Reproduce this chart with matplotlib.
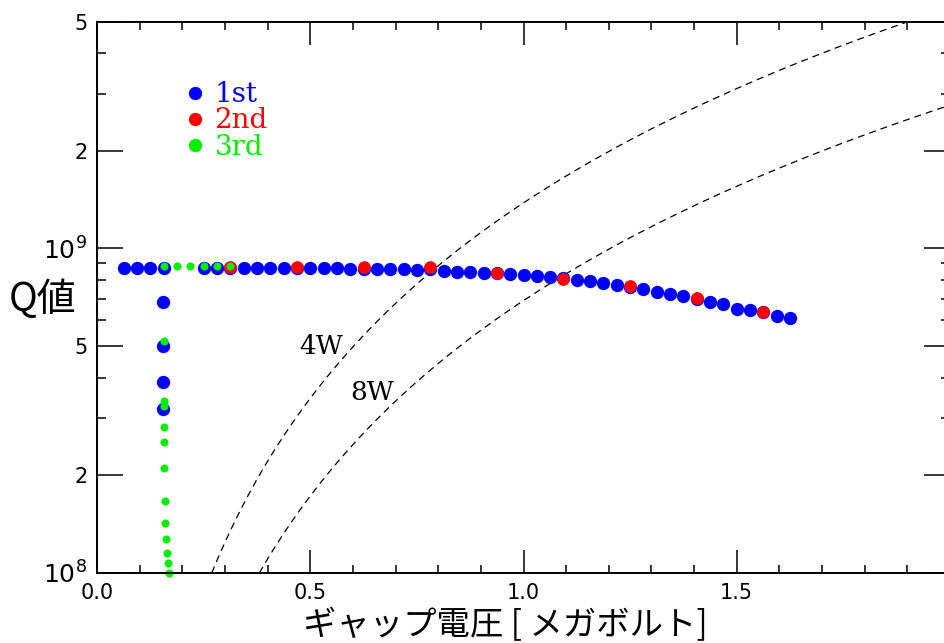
import numpy as np
import matplotlib
matplotlib.use("Agg")
import matplotlib.pyplot as plt
from matplotlib.ticker import FixedLocator, FixedFormatter, NullFormatter

# ---------------- data ----------------
# 1st (blue): horizontal run + vertical drop
first_x = [0.0625, 0.09375, 0.125, 0.15625,
           0.25, 0.28125, 0.3125, 0.34375, 0.375, 0.40625, 0.4375, 0.46875,
           0.5, 0.53125, 0.5625, 0.59375, 0.625, 0.65625, 0.6875, 0.71875,
           0.75, 0.78125, 0.8125, 0.84375, 0.875, 0.90625, 0.9375, 0.96875,
           1.0, 1.03125, 1.0625, 1.09375, 1.125, 1.15625, 1.1875, 1.21875,
           1.25, 1.28125, 1.3125, 1.34375, 1.375, 1.40625, 1.4375, 1.46875,
           1.5, 1.53125, 1.5625, 1.59375, 1.625,
           0.154, 0.154, 0.154, 0.154]
first_q = [8.69e8, 8.69e8, 8.69e8, 8.69e8,
           8.69e8, 8.69e8, 8.69e8, 8.69e8, 8.69e8, 8.69e8, 8.69e8, 8.69e8,
           8.69e8, 8.69e8, 8.69e8, 8.65e8, 8.65e8, 8.65e8, 8.65e8, 8.61e8,
           8.58e8, 8.62e8, 8.53e8, 8.48e8, 8.46e8, 8.40e8, 8.38e8, 8.33e8,
           8.29e8, 8.23e8, 8.17e8, 8.09e8, 8.00e8, 7.94e8, 7.85e8, 7.72e8,
           7.61e8, 7.49e8, 7.35e8, 7.24e8, 7.11e8, 6.99e8, 6.86e8, 6.75e8,
           6.50e8, 6.47e8, 6.35e8, 6.19e8, 6.09e8,
           6.86e8, 5.01e8, 3.88e8, 3.20e8]

# 2nd (red)
second_x = [0.3125, 0.46875, 0.625, 0.78125, 0.9375, 1.09375, 1.25, 1.40625, 1.5625]
second_q = [8.79e8, 8.79e8, 8.79e8, 8.79e8, 8.42e8, 8.05e8, 7.65e8, 7.03e8, 6.36e8]

# 3rd (green)
third_x = [0.15625, 0.1875, 0.21875, 0.25, 0.28125, 0.3125,
           0.156, 0.156, 0.157, 0.157, 0.157, 0.158, 0.159, 0.160,
           0.162, 0.163, 0.166, 0.169]
third_q = [8.83e8, 8.83e8, 8.83e8, 8.83e8, 8.83e8, 8.83e8,
           5.19e8, 3.39e8, 3.27e8, 2.82e8, 2.53e8, 2.11e8, 1.67e8, 1.43e8,
           1.27e8, 1.15e8, 1.07e8, 1.00e8]

# constant-power curves: Q = V^2 / ((R/Q) * P)
powers = [4, 8]
power_labels = ["4W", "8W"]
r_over_q = 181.0  # ohm
power_label_pos = [(0.525, 4.97e8), (0.645, 3.59e8)]

series_labels = ["1st", "2nd", "3rd"]
series_colors = ["#0000ff", "#ff0000", "#00ee00"]

x_major = [0.0, 0.5, 1.0, 1.5, 2.0]
x_major_labels = ["0.0", "0.5", "1.0", "1.5", ""]
y_major = [1e8, 2e8, 5e8, 1e9, 2e9, 5e9]
y_major_labels = [r"$10^{8}$", "2", "5", r"$10^{9}$", "2", "5"]
y_minor = [3e8, 4e8, 6e8, 7e8, 8e8, 9e8, 3e9, 4e9]

# ---------------- figure ----------------
W, H = 944, 643
fig = plt.figure(figsize=(W / 100, H / 100), dpi=100)
ax = fig.add_axes([97 / W, (H - 573) / H, 853 / W, (573 - 21.5) / H])

ax.set_yscale("log")
ax.set_xlim(0, 2.0)
ax.set_ylim(1e8, 5e9)

# power curves
for p, lab, pos in zip(powers, power_labels, power_label_pos):
    v0 = np.sqrt(r_over_q * p * 1e8) / 1e6
    v = np.linspace(v0, 2.0, 300)
    q = (v * 1e6) ** 2 / (r_over_q * p)
    ax.plot(v, q, color="black", lw=0.9, ls=(0, (5.6, 4.0)))
    ax.text(pos[0], pos[1], lab, fontsize=19, family="DejaVu Serif",
            ha="center", va="center")

ms_big = 9.6
ax.plot(first_x, first_q, "o", ls="none", color=series_colors[0], ms=ms_big,
        mew=0, label=series_labels[0], clip_on=False)
ax.plot(second_x, second_q, "o", ls="none", color=series_colors[1], ms=ms_big * 0.95,
        mew=0, label=series_labels[1], clip_on=False)
ax.plot(third_x, third_q, "o", ls="none", color=series_colors[2], ms=5.8,
        mew=0, label=series_labels[2], clip_on=False)

# legend
leg = ax.legend(loc="center left", bbox_to_anchor=(184 / W, 1 - 121 / H),
                bbox_transform=fig.transFigure, frameon=False,
                prop={"family": "DejaVu Serif", "size": 20},
                handlelength=0.8, handletextpad=0.3, labelspacing=-0.03,
                borderpad=0, borderaxespad=0, markerscale=1.0)
for txt, c in zip(leg.get_texts(), series_colors):
    txt.set_color(c)
for h in leg.legend_handles:
    h.set_markersize(ms_big)

# ticks
ax.xaxis.set_major_locator(FixedLocator(x_major))
ax.xaxis.set_major_formatter(FixedFormatter(x_major_labels))
ax.xaxis.set_minor_locator(FixedLocator(np.round(np.arange(0, 2.01, 0.1), 2)))
ax.yaxis.set_major_locator(FixedLocator(y_major))
ax.yaxis.set_major_formatter(FixedFormatter(y_major_labels))
ax.yaxis.set_minor_locator(FixedLocator(y_minor))
ax.yaxis.set_minor_formatter(NullFormatter())

ax.tick_params(axis="both", which="both", direction="in", top=True, right=True,
               width=1.1, color="black", labelsize=15)
ax.tick_params(axis="x", which="major", length=16.5, pad=7)
ax.tick_params(axis="x", which="minor", length=5.8)
ax.tick_params(axis="y", which="major", length=19, pad=7)
ax.tick_params(axis="y", which="minor", length=6.5)
for s in ax.spines.values():
    s.set_linewidth(1.4)

fig.canvas.draw()
for lbl in ax.get_yticklabels():
    if lbl.get_text().startswith("$"):
        lbl.set_fontsize(18)

# labels
ax.set_xlabel("ギャップ電圧 [ メガボルト]", family=["Noto Sans CJK JP", "DejaVu Sans"],
              fontsize=24)
ax.xaxis.set_label_coords(408 / 853, -0.095)
ax.xaxis.label.set_va("center")
ax.set_ylabel("Q値", family=["Noto Sans CJK JP", "DejaVu Sans"], fontsize=28,
              rotation=0, ha="center", va="center")
ax.yaxis.set_label_coords(-54 / 853, (573 - 300) / 551.5)

fig.savefig("out.png", dpi=100)
